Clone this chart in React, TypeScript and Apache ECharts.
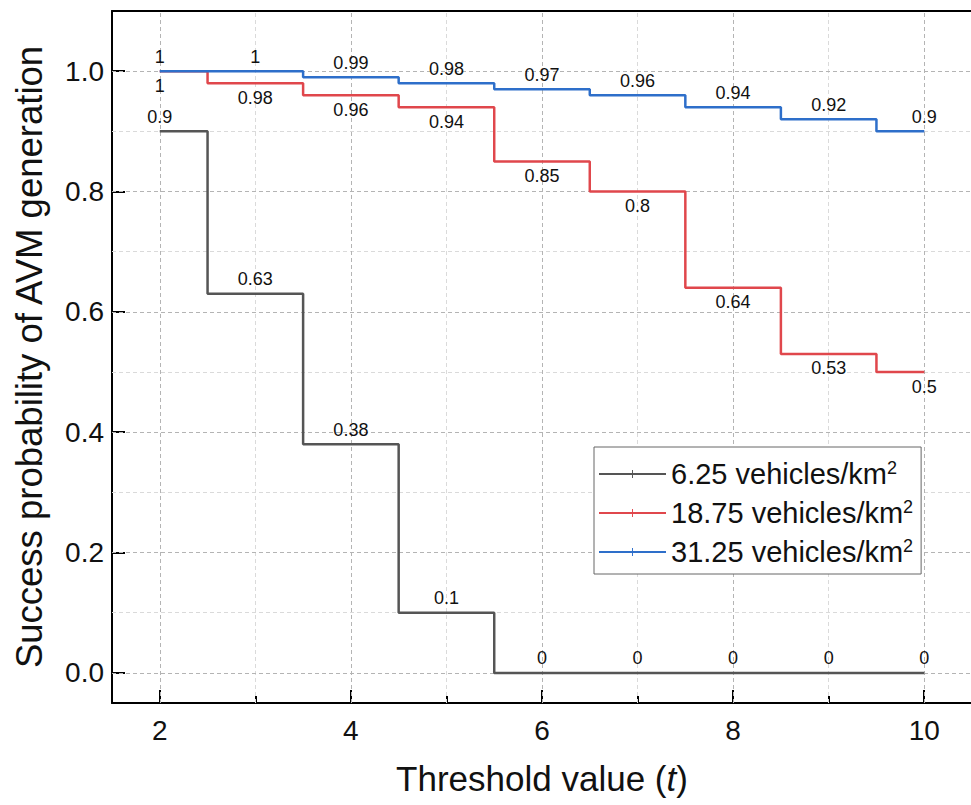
import React, { useEffect, useRef } from 'react';
import * as echarts from 'echarts';

// ---- data ----
const thresholds = [2, 3, 4, 5, 6, 7, 8, 9, 10];
const density625 = [0.9, 0.63, 0.38, 0.1, 0, 0, 0, 0, 0];
const density1875 = [1, 0.98, 0.96, 0.94, 0.85, 0.8, 0.64, 0.53, 0.5];
const density3125 = [1, 1, 0.99, 0.98, 0.97, 0.96, 0.94, 0.92, 0.9];
const seriesNames = ['6.25', '18.75', '31.25'];

const xMajorTicks = [2, 4, 6, 8, 10];
const xMinorTicks = [3, 5, 7, 9];
const yMajorTicks = [0, 0.2, 0.4, 0.6, 0.8, 1.0];
const yMinorGrid = [0.1, 0.3, 0.5, 0.7, 0.9];

const FONT = '"Liberation Sans", Arial, Helvetica, sans-serif';
const TICK_SYMBOL = 'path://M0,5L10,5L10,5.01L0,5.01Z M4.4,0L5.6,0L5.6,10L4.4,10Z';

export default function App() {
  const ref = useRef<HTMLDivElement>(null);

  useEffect(() => {
    const chart = echarts.init(ref.current!, null, { renderer: 'svg' });

    const majorGrid = { color: '#b4b4b4', width: 1, type: [4, 3] as any };
    const minorGrid = { color: '#dadada', width: 1, type: [4, 3] as any };

    const makeSeries = (name: string, values: number[], color: string, pos: string) => ({
      name,
      type: 'line',
      step: 'middle',
      data: thresholds.map((x, i) => [x, values[i]]),
      symbol: TICK_SYMBOL,
      symbolSize: 1,
      showSymbol: true,
      z: 3,
      lineStyle: { color, width: 2.5 },
      itemStyle: { color },
      label: {
        show: true,
        position: pos,
        distance: 5,
        color: '#111',
        fontSize: 18,
        fontFamily: FONT,
        formatter: (p: any) => String(p.value[1]),
      },
      emphasis: { disabled: true },
    });

    chart.setOption({
      animation: false,
      backgroundColor: '#fff',
      grid: {
        show: false,
        left: 112,
        top: 11,
        right: 5,
        bottom: 102,
        containLabel: false,
      },
      legend: {
        data: seriesNames,
        orient: 'vertical',
        left: 594,
        top: 447,
        padding: [12, 8, 7, 4],
        itemWidth: 67,
        itemHeight: 10,
        itemGap: 9,
        selectedMode: false,
        backgroundColor: '#fff',
        borderColor: '#666',
        borderWidth: 1,
        borderRadius: 0,
        formatter: (name: string) => `${name} vehicles/km{sup|2}`,
        textStyle: {
          fontSize: 29,
          fontFamily: FONT,
          color: '#111',
          lineHeight: 30,
          rich: {
            sup: { fontSize: 18, fontFamily: FONT, color: '#111', verticalAlign: 'top', lineHeight: 17 },
          },
        },
      },
      xAxis: [
        {
          type: 'value',
          min: 1.5,
          max: 10.5,
          position: 'bottom',
          axisLine: { show: true, onZero: false, lineStyle: { color: '#000', width: 2 } },
          axisTick: { show: true, inside: true, length: 13, customValues: xMajorTicks, lineStyle: { color: '#000', width: 2 } },
          axisLabel: { customValues: xMajorTicks, fontSize: 28, color: '#111', margin: 13, fontFamily: FONT },
          splitLine: { show: false },
          name: '{a|Threshold value (}{i|t}{a|)}',
          nameLocation: 'middle',
          nameGap: 58,
          nameTextStyle: {
            rich: {
              a: { fontSize: 35, fontFamily: FONT, color: '#111' },
              i: { fontSize: 35, fontFamily: FONT, color: '#111', fontStyle: 'italic' },
            },
          },
        },
        {
          type: 'value',
          min: 1.5,
          max: 10.5,
          position: 'bottom',
          axisLine: { show: false, onZero: false },
          axisTick: { show: true, inside: true, length: 7, customValues: xMinorTicks, lineStyle: { color: '#000', width: 2 } },
          axisLabel: { show: false },
          splitLine: { show: false },
        },
        {
          type: 'value',
          min: 1.5,
          max: 10.5,
          position: 'top',
          axisLine: { show: true, onZero: false, lineStyle: { color: '#000', width: 2 } },
          axisTick: { show: false },
          axisLabel: { show: false },
          splitLine: { show: false },
        },
      ],
      yAxis: {
        type: 'value',
        min: -0.05,
        max: 1.1,
        axisLine: { show: true, onZero: false, lineStyle: { color: '#000', width: 2 } },
        axisTick: { show: true, inside: true, length: 13, customValues: yMajorTicks, lineStyle: { color: '#000', width: 2 } },
        axisLabel: {
          customValues: yMajorTicks,
          fontSize: 28,
          color: '#111',
          margin: 8,
          fontFamily: FONT,
          formatter: (v: number) => v.toFixed(1),
        },
        splitLine: { show: false },
        name: 'Success probability of AVM generation',
        nameLocation: 'middle',
        nameRotate: 90,
        nameGap: 64,
        nameTextStyle: { fontSize: 36.5, fontFamily: FONT, color: '#111' },
      },
      series: [
        {
          name: 'grid-lines',
          type: 'line',
          data: [],
          silent: true,
          z: 1,
          markLine: {
            silent: true,
            z: 1,
            animation: false,
            symbol: ['none', 'none'],
            label: { show: false },
            emphasis: { disabled: true },
            data: [
              ...yMinorGrid.map((v) => ({ yAxis: v, lineStyle: minorGrid })),
              ...xMinorTicks.map((v) => ({ xAxis: v, lineStyle: minorGrid })),
              ...yMajorTicks.map((v) => ({ yAxis: v, lineStyle: majorGrid })),
              ...xMajorTicks.map((v) => ({ xAxis: v, lineStyle: majorGrid })),
            ],
          },
        },
        makeSeries(seriesNames[0], density625, '#555555', 'top'),
        makeSeries(seriesNames[1], density1875, '#e0474c', 'bottom'),
        makeSeries(seriesNames[2], density3125, '#2e6fca', 'top'),
      ],
    });

    return () => chart.dispose();
  }, []);

  return (
    <div style={{ position: 'absolute', left: 0, top: 0, width: 971, height: 805, overflow: 'hidden', background: '#fff' }}>
      <div ref={ref} style={{ width: 977, height: 805 }} />
    </div>
  );
}
